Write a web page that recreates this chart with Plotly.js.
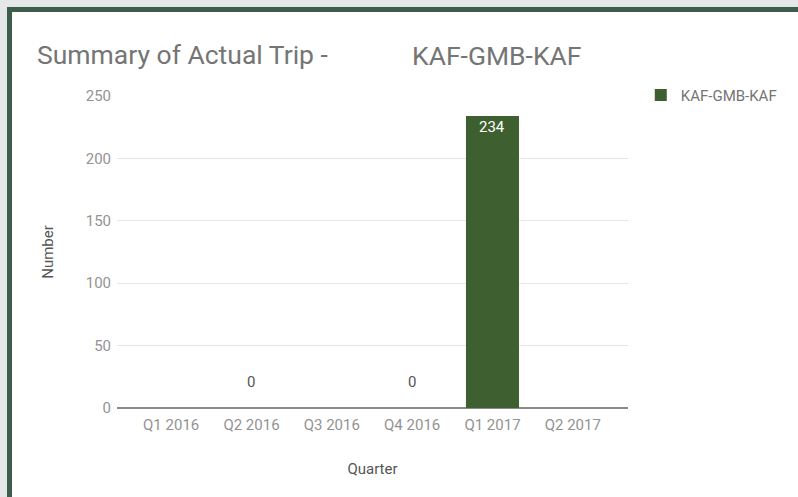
<!DOCTYPE html>
<html>
<head>
<meta charset="utf-8">
<script src="https://cdn.plot.ly/plotly-3.0.1.min.js"></script>
<style>
  html, body { margin:0; padding:0; background:#e6e7e9; width:798px; height:497px; overflow:hidden; }
  #frame { position:absolute; left:7px; top:7px; width:791px; height:490px; border-left:5px solid #3c5d48; border-top:5px solid #3c5d48; background:#fff; box-sizing:border-box; }
  #chart { position:absolute; left:0; top:0; width:786px; height:485px; }
</style>
</head>
<body>
<div id="frame"><div id="chart"></div></div>
<script>
const quarters = ["Q1 2016", "Q2 2016", "Q3 2016", "Q4 2016", "Q1 2017", "Q2 2017"];
const trips = [null, 0, null, 0, 234, null];
const seriesName = "KAF-GMB-KAF";
const yTicks = [0, 50, 100, 150, 200, 250];
const FONT = 'Roboto, Arial, sans-serif';

const annotations = [];
quarters.forEach((q, i) => {
  const v = trips[i];
  if (v === null) return;
  if (v > 0) {
    annotations.push({x: q, y: v, xref: 'x', yref: 'y', text: String(v), showarrow: false,
      yshift: -11, font: {family: FONT, size: 15, color: '#ffffff'}});
  } else {
    annotations.push({x: q, y: v, xref: 'x', yref: 'y', text: String(v), showarrow: false,
      yshift: 26, font: {family: FONT, size: 15, color: '#555555'}});
  }
});
annotations.push({xref: 'paper', yref: 'paper', x: (410 - 117) / 511, y: 1, xanchor: 'left', yanchor: 'middle',
  yshift: 41, text: seriesName, showarrow: false,
  font: {family: FONT, size: 26.5, color: '#757575'}});

const data = [{
  type: 'bar', x: quarters, y: trips, name: seriesName,
  marker: {color: '#3e5f2f'}, hoverinfo: 'none'
}];

const layout = {
  width: 786, height: 485,
  margin: {l: 105, r: 170, t: 84, b: 89},
  paper_bgcolor: '#ffffff', plot_bgcolor: '#ffffff',
  font: {family: FONT, color: '#757575'},
  title: {text: 'Summary of Actual Trip -', x: 25 / 786, xanchor: 'left', xref: 'container',
    y: 1 - 43 / 485, yanchor: 'middle', font: {size: 26.5, color: '#757575'}},
  bargap: 0.34,
  showlegend: true,
  legend: {x: 1.025, y: 1.055, xanchor: 'left', yanchor: 'top', font: {size: 15, color: '#757575'}},
  xaxis: {type: 'category', range: [-0.674, 5.687], showgrid: false, ticks: '', tickfont: {size: 15, color: '#939393'},
    ticklabelstandoff: 6,
    title: {text: 'Quarter', font: {size: 15, color: '#555'}, standoff: 30}, showline: false, zeroline: false},
  yaxis: {range: [0, 250], tickvals: yTicks, showgrid: true, gridcolor: '#e6e6e6', zeroline: true,
    zerolinecolor: '#8a8a8a', zerolinewidth: 1.5, tickfont: {size: 15, color: '#939393'}, ticks: '',
    ticklabelstandoff: 5,
    title: {text: 'Number', font: {size: 15, color: '#555'}, standoff: 28}},
  annotations: annotations
};

Plotly.newPlot('chart', data, layout, {staticPlot: true});
</script>
</body>
</html>
